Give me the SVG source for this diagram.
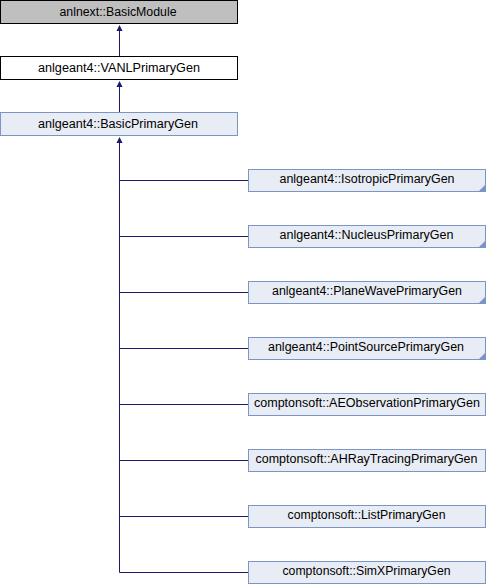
<svg xmlns="http://www.w3.org/2000/svg" width="486" height="584" viewBox="0 0 486 584">
<style>
text{font-family:"Liberation Sans",Arial,sans-serif;font-size:12px;fill:#000;text-anchor:middle}
.n rect{fill:#e8ecf4;stroke:#7c95c6;stroke-width:1}
.c path{fill:none;stroke:#191970;stroke-width:1}
.c .ah{fill:#191970;stroke:none}
.fold{fill:#7c95c6}
</style>
<rect width="486" height="584" fill="#fff"/>
<g class="c" id="connectors">
<path d="M119.5,56 V26"/>
<path d="M119.5,112 V82"/>
<path d="M119.5,572.5 V138"/>
<path d="M119.5,180.5 H248.5"/>
<path d="M119.5,236.5 H248.5"/>
<path d="M119.5,292.5 H248.5"/>
<path d="M119.5,348.5 H248.5"/>
<path d="M119.5,404.5 H248.5"/>
<path d="M119.5,460.5 H248.5"/>
<path d="M119.5,516.5 H248.5"/>
<path d="M119.5,572.5 H248.5"/>
<path class="ah" d="M116.5,31 L119.5,25 L122.5,31 Z"/>
<path class="ah" d="M116.5,87 L119.5,81 L122.5,87 Z"/>
<path class="ah" d="M116.5,143 L119.5,137 L122.5,143 Z"/>
</g>
<g id="BasicModule"><rect x="0.5" y="0.5" width="237" height="23" fill="#bfbfbf" stroke="#000"/><text x="118" y="16" textLength="117" lengthAdjust="spacingAndGlyphs">anlnext::BasicModule</text></g>
<g id="VANLPrimaryGen"><rect x="0.5" y="56.5" width="237" height="23" fill="#fff" stroke="#000"/><text x="119" y="72" textLength="162" lengthAdjust="spacingAndGlyphs">anlgeant4::VANLPrimaryGen</text></g>
<g id="BasicPrimaryGen" class="n"><rect x="0.5" y="112.5" width="237" height="23"/><text x="118" y="128" textLength="160" lengthAdjust="spacingAndGlyphs">anlgeant4::BasicPrimaryGen</text></g>
<g id="IsotropicPrimaryGen" class="n"><rect x="248.5" y="169.5" width="237" height="22"/><path class="fold" d="M485,185 V191 H479 Z"/><text x="367" y="183" textLength="175" lengthAdjust="spacingAndGlyphs">anlgeant4::IsotropicPrimaryGen</text></g>
<g id="NucleusPrimaryGen" class="n"><rect x="248.5" y="225.5" width="237" height="22"/><path class="fold" d="M485,241 V247 H479 Z"/><text x="366.5" y="239" textLength="174" lengthAdjust="spacingAndGlyphs">anlgeant4::NucleusPrimaryGen</text></g>
<g id="PlaneWavePrimaryGen" class="n"><rect x="248.5" y="281.5" width="237" height="22"/><path class="fold" d="M485,297 V303 H479 Z"/><text x="367" y="295" textLength="190" lengthAdjust="spacingAndGlyphs">anlgeant4::PlaneWavePrimaryGen</text></g>
<g id="PointSourcePrimaryGen" class="n"><rect x="248.5" y="337.5" width="237" height="22"/><path class="fold" d="M485,353 V359 H479 Z"/><text x="366" y="351" textLength="196" lengthAdjust="spacingAndGlyphs">anlgeant4::PointSourcePrimaryGen</text></g>
<g id="AEObservationPrimaryGen" class="n"><rect x="248.5" y="393.5" width="237" height="22"/><text x="367" y="407" textLength="226" lengthAdjust="spacingAndGlyphs">comptonsoft::AEObservationPrimaryGen</text></g>
<g id="AHRayTracingPrimaryGen" class="n"><rect x="248.5" y="449.5" width="237" height="22"/><text x="366.5" y="463" textLength="222" lengthAdjust="spacingAndGlyphs">comptonsoft::AHRayTracingPrimaryGen</text></g>
<g id="ListPrimaryGen" class="n"><rect x="248.5" y="505.5" width="237" height="22"/><text x="366.5" y="519" textLength="158" lengthAdjust="spacingAndGlyphs">comptonsoft::ListPrimaryGen</text></g>
<g id="SimXPrimaryGen" class="n"><rect x="248.5" y="561.5" width="237" height="22"/><text x="366.5" y="575" textLength="168" lengthAdjust="spacingAndGlyphs">comptonsoft::SimXPrimaryGen</text></g>
</svg>
